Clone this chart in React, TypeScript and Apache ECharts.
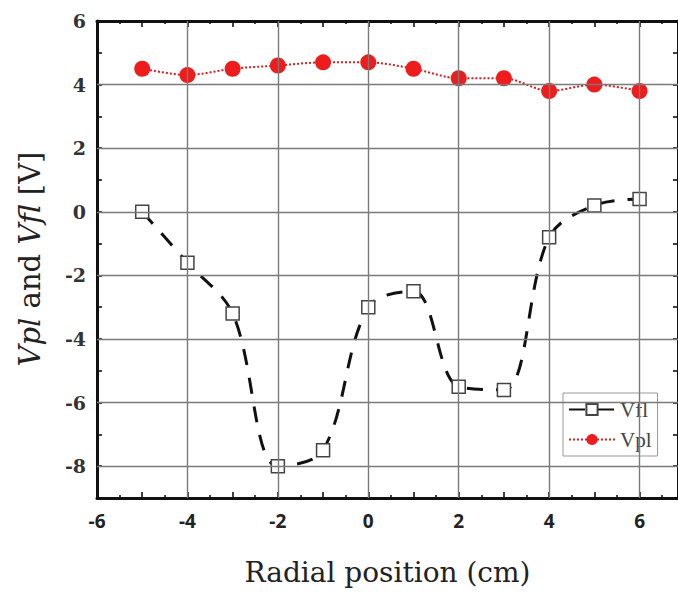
import React, { useEffect, useRef } from "react";
import * as echarts from "echarts";

const xValues = [-5, -4, -3, -2, -1, 0, 1, 2, 3, 4, 5, 6];
const vfl = [0.0, -1.6, -3.2, -8.0, -7.5, -3.0, -2.5, -5.5, -5.6, -0.8, 0.2, 0.4];
const vpl = [4.5, 4.3, 4.5, 4.6, 4.7, 4.7, 4.5, 4.2, 4.2, 3.8, 4.0, 3.8];
const xGridLines = [-4, -2, 0, 2, 4, 6];
const yGridLines = [-8, -6, -4, -2, 0, 2, 4];
const xLabelValues = [-6, -4, -2, 0, 2, 4, 6];
const yLabelValues = [-8, -6, -4, -2, 0, 2, 4, 6];

export default function App() {
  const ref = useRef<HTMLDivElement>(null);
  useEffect(() => {
    if (!ref.current) return;
    const chart = echarts.init(ref.current, null, { renderer: "svg" });
    const xMin = -6;
    const xMax = 6.85;
    const yMin = -9;
    const yMax = 6;
    const commonX = {
      type: "value",
      min: xMin,
      max: xMax,
      interval: 1,
      axisLine: { show: true, onZero: false, lineStyle: { color: "#111", width: 3 } },
      axisTick: { show: true, inside: true, length: 6, lineStyle: { color: "#111", width: 1.6 } },
      minorTick: { show: true, splitNumber: 2, length: 3, lineStyle: { color: "#111", width: 1.6 } },
      splitLine: { show: false },
    };
    const commonY = {
      type: "value",
      min: yMin,
      max: yMax,
      interval: 1,
      axisLine: { show: true, onZero: false, lineStyle: { color: "#111", width: 3 } },
      axisTick: { show: true, inside: true, length: 5, lineStyle: { color: "#111", width: 1.6 } },
      splitLine: { show: false },
    };
    chart.setOption({
      animation: false,
      backgroundColor: "#fff",
      grid: { left: 97, top: 21, width: 581, height: 477, containLabel: false },
      legend: {
        data: ["Vfl", "Vpl"],
        orient: "vertical",
        left: 563,
        top: 393,
        itemWidth: 46,
        itemHeight: 14,
        itemGap: 9,
        padding: [6, 6, 6, 5],
        borderColor: "#999",
        borderWidth: 1,
        backgroundColor: "#fff",
        textStyle: { fontFamily: "Liberation Serif", fontSize: 21, color: "#444" },
      },
      xAxis: [
        {
          ...commonX,
          position: "bottom",
          name: "Radial position (cm)",
          nameLocation: "middle",
          nameGap: 60,
          nameTextStyle: { fontFamily: "DejaVu Serif", fontSize: 28, color: "#222" },
          axisLabel: {
            show: true,
            margin: 13,
            fontFamily: "Open Sans",
            fontWeight: "bold",
            fontSize: 19,
            color: "#222",
            showMaxLabel: false,
            formatter: (v: number) => (xLabelValues.includes(v) ? String(v) : ""),
          },
        },
        {
          ...commonX,
          position: "top",
          axisLabel: { show: false },
        },
      ],
      yAxis: [
        {
          ...commonY,
          position: "left",
          axisLabel: {
            show: true,
            margin: 11,
            fontFamily: "DejaVu Serif",
            fontWeight: "bold",
            fontSize: 19,
            color: "#333",
            formatter: (v: number) => (yLabelValues.includes(v) ? String(v) : ""),
          },
        },
        {
          ...commonY,
          position: "right",
          axisLabel: { show: false },
        },
      ],
      graphic: [
        {
          type: "text",
          x: 30,
          y: 259,
          rotation: Math.PI / 2,
          style: {
            text: "{i|Vpl} {n|and} {i|Vfl} {n|[V]}",
            align: "center",
            verticalAlign: "middle",
            fontFamily: "DejaVu Serif",
            fontSize: 29,
            fill: "#222",
            rich: {
              i: { fontFamily: "DejaVu Serif", fontStyle: "italic", fontSize: 29, fill: "#222" },
              n: { fontFamily: "DejaVu Serif", fontSize: 29, fill: "#222" },
            },
          },
        },
      ],
      series: [
        {
          name: "grid",
          type: "line",
          data: [],
          z: 1,
          silent: true,
          markLine: {
            silent: true,
            symbol: "none",
            label: { show: false },
            lineStyle: { color: "#7a7a7a", width: 1.4, type: "solid" },
            data: [
              ...xGridLines.map((v) => ({ xAxis: v })),
              ...yGridLines.map((v) => ({ yAxis: v })),
            ],
          },
        },
        {
          name: "Vfl",
          type: "line",
          z: 3,
          data: xValues.map((x, i) => [x, vfl[i]]),
          smooth: 0.35,
          symbol: "rect",
          symbolSize: 13,
          itemStyle: { color: "#fff", borderColor: "#444", borderWidth: 1.5 },
          lineStyle: { color: "#111", width: 3, type: [16, 13] },
        },
        {
          name: "Vpl",
          type: "line",
          z: 4,
          data: xValues.map((x, i) => [x, vpl[i]]),
          smooth: 0.3,
          symbol: "circle",
          symbolSize: 16,
          itemStyle: { color: "#ee1c1c" },
          lineStyle: { color: "#d02020", width: 2, type: [2, 2] },
        },
      ],
    });
    return () => chart.dispose();
  }, []);
  return (
    <div
      ref={ref}
      style={{ position: "fixed", left: 0, top: 0, width: 678, height: 594 }}
    />
  );
}
